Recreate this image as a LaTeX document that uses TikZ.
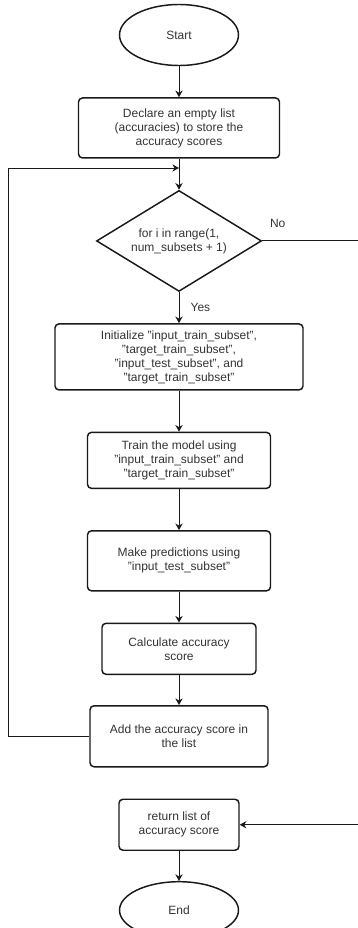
\documentclass[tikz,border=0pt]{standalone}
\usepackage{fontspec}
\setmainfont{Liberation Sans}
\usetikzlibrary{arrows.meta, positioning, shapes.geometric}
\definecolor{inkgray}{RGB}{51,51,51}
\definecolor{linegray}{RGB}{25,25,25}

\begin{document}
\begin{tikzpicture}[
    x=0.75pt, y=-0.75pt,
    node distance=23.25pt,
    term/.style={ellipse, draw=linegray, line width=1.1pt, minimum width=89.25pt,
                 minimum height=45.75pt, inner sep=1pt, text=inkgray,
                 font=\fontsize{9}{10.5}\selectfont},
    box/.style={rectangle, rounded corners=3pt, draw=linegray, line width=1.1pt,
                align=center, inner sep=2pt, text=inkgray,
                font=\fontsize{9}{10.5}\selectfont},
    decision/.style={diamond, aspect=1.63, draw=linegray, line width=1.1pt,
                     minimum width=123.75pt, minimum height=75.75pt, inner sep=0pt,
                     align=center, text=inkgray, font=\fontsize{9}{10.5}\selectfont},
    arr/.style={-{Stealth[length=5pt, width=5.5pt]}, line width=0.75pt, linegray},
    lbl/.style={text=inkgray, font=\fontsize{9}{10.5}\selectfont}
  ]
    \useasboundingbox (0,0) rectangle (357,928);

    \node[term] (start) at (179,35) {Start};
    \node[box, below=of start, minimum width=150.75pt, minimum height=45pt] (declare)
        {Declare an empty list\\(accuracies) to store the\\accuracy scores};
    \node[decision, below=of declare] (loop) {for i in range(1,\\num\_subsets + 1)};
    \node[box, below=of loop, minimum width=186pt, minimum height=49.5pt] (init)
        {Initialize "input\_train\_subset",\\"target\_train\_subset",\\"input\_test\_subset", and\\"target\_train\_subset"};
    \node[box, below=30.75pt of init, minimum width=137.25pt, minimum height=42pt] (train)
        {Train the model using\\"input\_train\_subset" and\\"target\_train\_subset"};
    \node[box, below=30.75pt of train, minimum width=137.25pt, minimum height=45pt] (predict)
        {Make predictions using\\"input\_test\_subset"};
    \node[box, below=of predict, minimum width=115.5pt, minimum height=38.25pt] (score)
        {Calculate accuracy\\score};
    \node[box, below=22.5pt of score, minimum width=133.5pt, minimum height=45.75pt] (append)
        {Add the accuracy score in\\the list};
    \node[box, below=of append, minimum width=90pt, minimum height=38.25pt] (result)
        {return list of\\accuracy score};
    \node[term, below=22.5pt of result, minimum height=42.75pt] (stop) {End};

    \coordinate (back) at (8,168);
    \coordinate (side) at (359,500);

    \draw[arr] (start)   -- (declare);
    \draw[arr] (declare) -- (loop);
    \draw[arr] (loop)    -- node[lbl, right=5pt] {Yes} (init);
    \draw[arr] (init)    -- (train);
    \draw[arr] (train)   -- (predict);
    \draw[arr] (predict) -- (score);
    \draw[arr] (score)   -- (append);
    \draw[arr] (append.west) -| (back) -- (back -| declare.south);
    \draw[arr] (loop.east) -- node[lbl, pos=0.16, above=6pt] {No} (loop.east -| side) |- (result.east);
    \draw[arr] (result)  -- (stop);
\end{tikzpicture}
\end{document}
